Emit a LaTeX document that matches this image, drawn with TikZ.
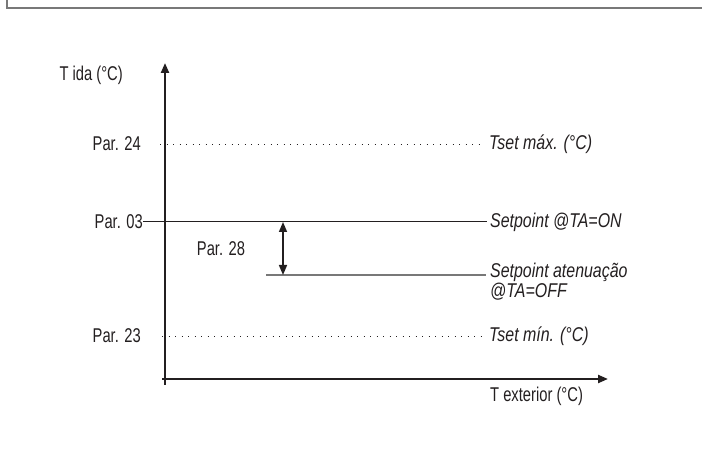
\documentclass[tikz,border=0pt]{standalone}
\usepackage{fontspec}
\setmainfont{Liberation Sans}[FakeStretch=0.74,
  ItalicFeatures={FakeStretch=0.8}]
\usepackage{tikz}
\usetikzlibrary{arrows.meta,positioning,calc}
\definecolor{axisblk}{RGB}{35,31,32}
\definecolor{framegray}{RGB}{120,120,120}
\definecolor{offgray}{RGB}{120,120,120}

\begin{document}
\begin{tikzpicture}[x=1bp,y=1bp,>={Triangle[length=10bp,width=8bp]},
          axis/.style={draw=axisblk,line width=2.2bp},
          level/.style={draw=axisblk,line width=1bp},
          limit/.style={draw=axisblk,line width=0.9bp,dash pattern=on 0.9bp off 5.6bp},
          parlbl/.style={font=\fontsize{20}{20}\selectfont,text=axisblk,inner sep=0pt},
          curvelbl/.style={font=\fontsize{20}{20}\selectfont\itshape,text=axisblk,
                           inner sep=0pt,anchor=west,align=left}]
  \useasboundingbox (0,0) rectangle (702,457);
  % frame
  \draw[framegray,line width=1.6bp] (7,457) -- (7,449) -- (702,449);
  % axes
  \coordinate (orig) at (165,78);
  \draw[axis,->] (165,72) -- (165,394) coordinate (ytip);
  \draw[axis,->] (162,78) -- (608,78) coordinate (xtip);
  \node[parlbl,anchor=east] (yname) at (123,382) {T ida (°C)};
  \node[parlbl,anchor=west] (xname) at (490,61) {T exterior (°C)};
  % levels
  \node[parlbl,anchor=east] (p24) at (141,313) {Par. 24};
  \node[parlbl,anchor=east] (p03) at (143,235) {Par. 03};
  \node[parlbl,anchor=east] (p23) at (141,121) {Par. 23};
  \node[curvelbl] (tmax) at (489,313) {Tset máx. (°C)};
  \node[curvelbl] (spon) at (490,235) {Setpoint @TA=ON};
  \node[curvelbl] (spoff) at (490,175) {Setpoint atenuação\\@TA=OFF};
  \node[curvelbl] (tmin) at (489,121) {Tset mín. (°C)};
  \coordinate (offstart) at (266,182);
  \draw[limit] (160,313) -- ([xshift=-4bp]tmax.west);
  \draw[level] (p03.east) -- ([xshift=-3bp]spon.west);
  \draw[draw=offgray,line width=1.2bp] (offstart) -- (486,182);
  \draw[limit] (162,121) -- ([xshift=-5bp]tmin.west);
  % attenuation step
  \draw[<->,draw=axisblk,line width=1.6bp] (283,235) -- (283,182);
  \node[parlbl] (p28) at (221,208) {Par. 28};
\end{tikzpicture}
\end{document}
